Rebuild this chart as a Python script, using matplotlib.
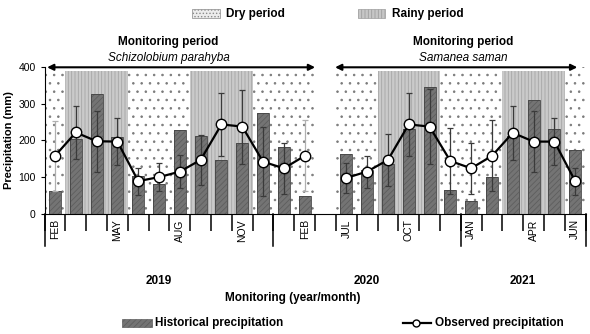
import numpy as np
import matplotlib
matplotlib.use('Agg')
import matplotlib.pyplot as plt
from matplotlib.patches import Rectangle
from matplotlib.lines import Line2D

plt.rcParams['font.family'] = ['Liberation Sans Narrow', 'Liberation Sans', 'DejaVu Sans']
plt.rcParams['hatch.linewidth'] = 0.6

# one slot per month, slot 13 is the gap between the two monitoring periods
months = ['FEB', 'MAR', 'APR', 'MAY', 'JUN', 'JUL', 'AUG', 'SEP', 'OCT', 'NOV', 'DEC', 'JAN', 'FEB', '',
          'JUL', 'AUG', 'SEP', 'OCT', 'NOV', 'DEC', 'JAN', 'FEB', 'MAR', 'APR', 'MAY', 'JUN']
shown = ['FEB', 'MAY', 'AUG', 'NOV', 'FEB', 'JUL', 'OCT', 'JAN', 'APR', 'JUN']
shown_idx = [0, 3, 6, 9, 12, 14, 17, 20, 23, 25]
historical = [62, 204, 327, 210, 104, 81, 230, 213, 146, 194, 274, 181, 48, np.nan,
              162, 119, 135, 232, 346, 66, 36, 99, 212, 312, 231, 174]
observed = [158, 222, 198, 197, 89, 100, 115, 147, 244, 238, 142, 124, 158, np.nan,
            98, 115, 147, 244, 238, 144, 124, 158, 221, 197, 197, 89]
observed_err = [96, 72, 83, 65, 37, 38, 45, 68, 87, 101, 95, 70, 97, np.nan,
                41, 44, 70, 85, 103, 90, 69, 97, 73, 84, 65, 37]
rainy = [(1, 3), (7, 9), (16, 18), (22, 24)]
years = ['2019', '2020', '2021']
year_bounds = [-0.5, 10.5, 19.5, 25.5]
species = ['Schizolobium parahyba', 'Samanea saman']

x = np.arange(len(months))
W, H = 590, 334
fig = plt.figure(figsize=(W / 100, H / 100), dpi=100)
ax = fig.add_axes([44.6 / W, 1 - 213.7 / H, 541 / W, 146.4 / H])

# dry period background (dots), rainy period (grey striped)
for a, b in [(-0.5, 12.5), (13.5, 25.5)]:
    ax.axvspan(a, b, ymax=1, facecolor='white', edgecolor='#7a7a7a', hatch='..', lw=0, zorder=0)
for a, b in rainy:
    ax.axvspan(a - 0.5, b + 0.5, ymax=390 / 400, facecolor='#cacaca', edgecolor='#a6a6a6',
               hatch='|||||', lw=0, zorder=0.5)

ax.bar(x, historical, width=0.58, color='#747474', edgecolor='#5e5e5e', hatch='//////', lw=0, zorder=2)
ax.bar(x, historical, width=0.58, fill=False, edgecolor='#444444', lw=0.6, zorder=2.1)

obs = np.array(observed, dtype=float)
err = np.array(observed_err, dtype=float)
light = np.zeros(len(x), bool)
light[[0, 12]] = True
ax.errorbar(x[~light], obs[~light], yerr=err[~light], fmt='none', ecolor='#3a3a3a',
            elinewidth=0.9, capsize=2, capthick=0.9, zorder=3)
ax.errorbar(x[light], obs[light], yerr=err[light], fmt='none', ecolor='#b0b0b0',
            elinewidth=0.9, capsize=2, capthick=0.9, zorder=3)
ax.plot(x, obs, '-o', color='black', lw=1.6, markersize=7.5, markerfacecolor='white',
        markeredgecolor='black', markeredgewidth=1, zorder=4)

ax.set_xlim(-0.5, len(months) - 0.5)
ax.set_ylim(0, 400)
ax.set_yticks([0, 100, 200, 300, 400])
ax.tick_params(axis='y', labelsize=7.5, length=3, width=0.8, colors='black')
ax.set_ylabel('Precipitation (mm)', fontsize=8, fontweight='bold', labelpad=3)
ax.spines['top'].set_visible(False)
ax.spines['right'].set_visible(False)

ax.set_xticks(shown_idx)
ax.set_xticklabels(shown, rotation=90, fontsize=7.5)
ax.tick_params(axis='x', which='major', length=0, pad=4)
ax.set_xticks(np.arange(-0.5, len(months) + 0.5, 1), minor=True)
ax.tick_params(axis='x', which='minor', length=12.2, width=1.1)
trans = ax.get_xaxis_transform()
for b in year_bounds:
    ax.plot([b, b], [0, -0.219], color='black', lw=1.1, transform=trans, clip_on=False)
for i, yr in enumerate(years):
    ax.text((year_bounds[i] + year_bounds[i + 1]) / 2, -0.46, yr, transform=trans,
            ha='center', va='center', fontsize=8.5, fontweight='bold')

# monitoring period arrows
for (a, b), c, sp in [((-0.38, 12.5), 5.45, species[0]), ((13.46, 25.1), 19.6, species[1])]:
    ax.annotate('', xy=(a, 400), xytext=(b, 400),
                arrowprops=dict(arrowstyle='<|-|>', color='black', lw=1.5, mutation_scale=9,
                                shrinkA=0, shrinkB=0), annotation_clip=False, zorder=5)
    ax.text(c, 469, 'Monitoring period', ha='center', va='center', fontsize=8.5, fontweight='bold')
    ax.text(c, 425, sp, ha='center', va='center', fontsize=8.5, style='italic')

fig.text(293 / W, 1 - 298 / H, 'Monitoring (year/month)', ha='center', va='center',
         fontsize=8.5, fontweight='bold')

# top legend
fig.add_artist(Rectangle((192 / W, 1 - 18 / H), 28 / W, 9 / H, transform=fig.transFigure,
                         facecolor='#ececec', edgecolor='#8a8a8a', hatch='.....', lw=0.5))
fig.text(226 / W, 1 - 13.5 / H, 'Dry period', ha='left', va='center', fontsize=8.5, fontweight='bold')
fig.add_artist(Rectangle((358 / W, 1 - 18 / H), 27 / W, 9 / H, transform=fig.transFigure,
                         facecolor='#c6c6c6', edgecolor='#9e9e9e', hatch='|||||', lw=0.5))
fig.text(392 / W, 1 - 13.5 / H, 'Rainy period', ha='left', va='center', fontsize=8.5, fontweight='bold')

# bottom legend
fig.add_artist(Rectangle((122 / W, 1 - 327 / H), 30 / W, 8 / H, transform=fig.transFigure,
                         facecolor='#747474', edgecolor='#5e5e5e', hatch='//////', lw=0.5))
fig.text(155 / W, 1 - 323 / H, 'Historical precipitation', ha='left', va='center',
         fontsize=8.5, fontweight='bold')
fig.add_artist(Line2D([403 / W, 431 / W], [1 - 323 / H, 1 - 323 / H], transform=fig.transFigure,
                      color='black', lw=1.6))
fig.add_artist(Line2D([416 / W], [1 - 323 / H], transform=fig.transFigure, marker='o',
                      markersize=5, markerfacecolor='white', markeredgecolor='black', markeredgewidth=1))
fig.text(435 / W, 1 - 323 / H, 'Observed precipitation', ha='left', va='center',
         fontsize=8.5, fontweight='bold')

fig.savefig('out.png', dpi=100)
